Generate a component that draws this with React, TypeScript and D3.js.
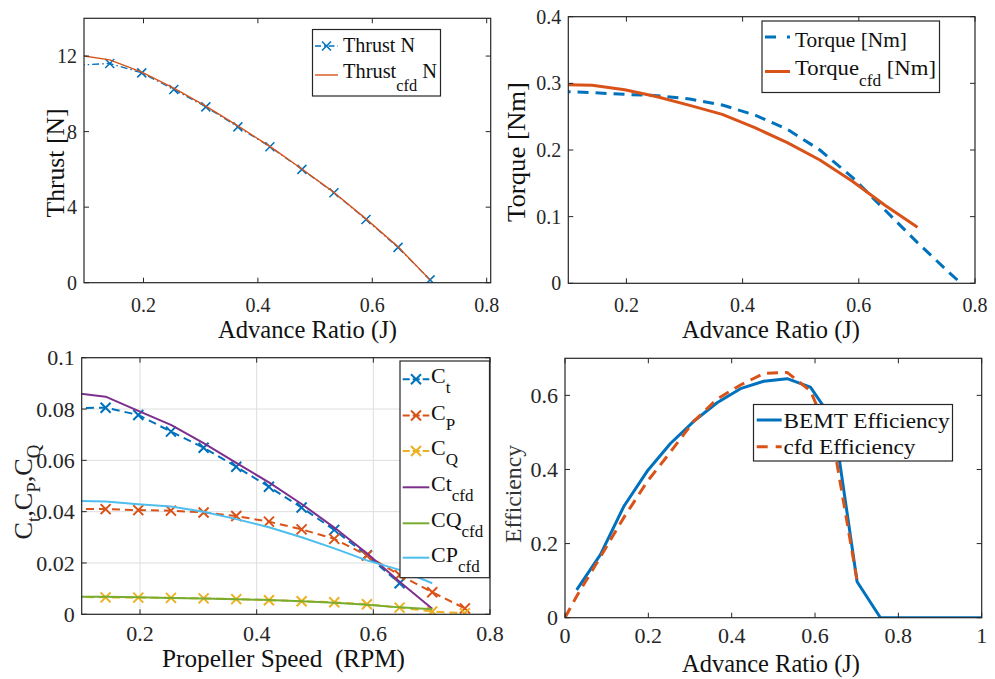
import React from 'react';
import * as d3 from 'd3';

// ---------------- DATA ----------------
// Panel 1: Thrust
const thrustJ = [0.085, 0.141, 0.197, 0.253, 0.309, 0.365, 0.421, 0.477, 0.533, 0.589, 0.645, 0.701];
const thrustBemt = [11.52, 11.61, 11.11, 10.23, 9.31, 8.25, 7.2, 6.0, 4.76, 3.35, 1.87, 0.15];
const thrustCfd = [12.05, 11.8, 11.15, 10.3, 9.35, 8.3, 7.22, 6.02, 4.78, 3.38, 1.9, 0.15];

// Panel 2: Torque
const torqueBemtJ = [0.085, 0.141, 0.197, 0.253, 0.309, 0.365, 0.421, 0.477, 0.533, 0.589, 0.645, 0.701, 0.757, 0.776];
const torqueBemt = [0.288, 0.286, 0.2835, 0.2815, 0.2765, 0.2675, 0.2525, 0.231, 0.2, 0.159, 0.11, 0.061, 0.015, 0];
const torqueCfdJ = [0.085, 0.141, 0.197, 0.253, 0.309, 0.365, 0.421, 0.477, 0.533, 0.589, 0.645, 0.701];
const torqueCfd = [0.298, 0.297, 0.2905, 0.28, 0.267, 0.2535, 0.2335, 0.211, 0.185, 0.153, 0.117, 0.084];

// Panel 3: coefficients
const coefJ = [0.085, 0.141, 0.197, 0.253, 0.309, 0.365, 0.421, 0.477, 0.533, 0.589, 0.645, 0.701, 0.757];
const ctBemt = [0.0804, 0.0805, 0.0777, 0.0712, 0.0649, 0.0575, 0.0497, 0.0416, 0.0329, 0.023, 0.0121];
const cpBemt = [0.041, 0.041, 0.0406, 0.0404, 0.0397, 0.0383, 0.0361, 0.0331, 0.0294, 0.0229, 0.0153, 0.0086, 0.0023];
const cqBemt = [0.0068, 0.0066, 0.0065, 0.0064, 0.0062, 0.0059, 0.0055, 0.0051, 0.0047, 0.0039, 0.0026, 0.0011, 0.0004];
const ctCfd = [0.0863, 0.0848, 0.0793, 0.0738, 0.0667, 0.059, 0.0514, 0.043, 0.0338, 0.0238, 0.0127, 0.0022];
const cqCfd = [0.0069, 0.0068, 0.0066, 0.0064, 0.0062, 0.0059, 0.0056, 0.0051, 0.0045, 0.0037, 0.0027, 0.002];
const cpCfd = [0.0442, 0.044, 0.0429, 0.042, 0.04, 0.0371, 0.0339, 0.03, 0.0257, 0.021, 0.0173, 0.0121];

// Panel 4: Efficiency
const effBemtJ = [0.028, 0.085, 0.141, 0.197, 0.253, 0.309, 0.365, 0.421, 0.477, 0.533, 0.589, 0.645, 0.701, 0.757, 0.813, 0.869, 0.925, 0.981, 1.0];
const effBemt = [0.075, 0.17, 0.3, 0.395, 0.47, 0.53, 0.58, 0.618, 0.638, 0.645, 0.622, 0.53, 0.097, 0, 0, 0, 0, 0, 0];
const effCfdJ = [0, 0.028, 0.085, 0.141, 0.197, 0.253, 0.309, 0.365, 0.421, 0.477, 0.533, 0.589, 0.645, 0.701];
const effCfd = [0, 0.058, 0.164, 0.27, 0.367, 0.447, 0.53, 0.59, 0.628, 0.659, 0.662, 0.612, 0.466, 0.1];

// Ticks
const p1XTicks = [0.2, 0.4, 0.6, 0.8];
const p1YTicks = [0, 4, 8, 12];
const p2XTicks = [0.2, 0.4, 0.6, 0.8];
const p2YTicks = [0, 0.1, 0.2, 0.3, 0.4];
const p3XTicks = [0.2, 0.4, 0.6, 0.8];
const p3YTicks = [0, 0.02, 0.04, 0.06, 0.08, 0.1];
const p4XTicks = [0, 0.2, 0.4, 0.6, 0.8, 1];
const p4YTicks = [0, 0.2, 0.4, 0.6];

// ---------------- STYLE ----------------
const COL = {
  blue: '#0072BD',
  red: '#D95319',
  yellow: '#EDB120',
  purple: '#7E2F8E',
  green: '#77AC30',
  cyan: '#4DBEEE',
};
const AX = '#262626';
const FONT = '"Liberation Serif", "DejaVu Serif", "Noto Serif", FreeSerif, "Nimbus Roman", "Times New Roman", Times, serif';
const fmt = d3.format('~g');

type Pt = [number, number];
const zip = (xs: number[], ys: number[]): Pt[] => ys.map((y, i) => [xs[i], y] as Pt);

const xMark = (s: number) => `M${-s},${-s}L${s},${s}M${-s},${s}L${s},${-s}`;

function Series({ pts, xs, ys, color, width, dash, marker, mSize = 5, mWidth, clip }: any) {
  const line = d3.line<Pt>().x((d) => xs(d[0])).y((d) => ys(d[1]));
  return (
    <g clipPath={`url(#${clip})`}>
      <path d={line(pts) || ''} fill="none" stroke={color} strokeWidth={width} strokeDasharray={dash} strokeLinejoin="round" />
      {marker &&
        pts.map((p: Pt, i: number) => (
          <path key={i} d={xMark(mSize)} transform={`translate(${xs(p[0])},${ys(p[1])})`} stroke={color} strokeWidth={mWidth || width} fill="none" />
        ))}
    </g>
  );
}

function Grid({ xs, ys, xTicks, yTicks }: any) {
  const [l, r] = xs.range();
  const [b, t] = ys.range();
  return (
    <g stroke="#dedede" strokeWidth={1}>
      {xTicks.map((v: number) => (
        <line key={'gx' + v} x1={xs(v)} x2={xs(v)} y1={t} y2={b} />
      ))}
      {yTicks.map((v: number) => (
        <line key={'gy' + v} x1={l} x2={r} y1={ys(v)} y2={ys(v)} />
      ))}
    </g>
  );
}

function FrameTop({ xs, ys, xTicks, yTicks, fs, xLabY, tickLen = 5 }: any) {
  const [l, r] = xs.range();
  const [b, t] = ys.range();
  return (
    <g>
      <g stroke={AX} strokeWidth={1}>
        {xTicks.map((v: number) => (
          <g key={'tx' + v}>
            <line x1={xs(v)} x2={xs(v)} y1={b} y2={b - tickLen} />
            <line x1={xs(v)} x2={xs(v)} y1={t} y2={t + tickLen} />
          </g>
        ))}
        {yTicks.map((v: number) => (
          <g key={'ty' + v}>
            <line x1={l} x2={l + tickLen} y1={ys(v)} y2={ys(v)} />
            <line x1={r} x2={r - tickLen} y1={ys(v)} y2={ys(v)} />
          </g>
        ))}
      </g>
      <rect x={l} y={t} width={r - l} height={b - t} fill="none" stroke={AX} strokeWidth={1.2} />
      <g style={{ fontFamily: FONT }} fontSize={fs} fill={AX}>
        {xTicks.map((v: number) => (
          <text key={'lx' + v} x={xs(v)} y={xLabY} textAnchor="middle">
            {fmt(v)}
          </text>
        ))}
        {yTicks.map((v: number) => (
          <text key={'ly' + v} x={l - 7} y={ys(v)} dy="0.35em" textAnchor="end">
            {fmt(v)}
          </text>
        ))}
      </g>
    </g>
  );
}

function ClipDef({ id, xs, ys }: any) {
  const [l, r] = xs.range();
  const [b, t] = ys.range();
  return (
    <clipPath id={id}>
      <rect x={l} y={t} width={r - l} height={b - t} />
    </clipPath>
  );
}

function LegText({ x, y, main, sub, tail, fs, subFs, subDy, len }: any) {
  return (
    <text
      x={x}
      y={y}
      style={{ fontFamily: FONT }}
      fontSize={fs}
      fill="#111"
      textLength={len}
      lengthAdjust={len ? 'spacingAndGlyphs' : undefined}
    >
      <tspan>{main}</tspan>
      {sub && (
        <tspan dy={subDy} fontSize={subFs}>
          {sub}
        </tspan>
      )}
      {tail && <tspan dy={-subDy}>{tail}</tspan>}
    </text>
  );
}

function Label({ x, y, rotate, text, fs, len, fill = '#111' }: any) {
  return (
    <text
      transform={`translate(${x},${y})${rotate ? ' rotate(-90)' : ''}`}
      textAnchor="middle"
      style={{ fontFamily: FONT }}
      fontSize={fs}
      fill={fill}
      textLength={len}
      lengthAdjust="spacingAndGlyphs"
    >
      {text}
    </text>
  );
}

export default function App() {
  const x1 = d3.scaleLinear().domain([0.096, 0.807]).range([84, 490.7]);
  const y1 = d3.scaleLinear().domain([0, 14]).range([282.7, 18.3]);
  const x2 = d3.scaleLinear().domain([0.1, 0.8]).range([568.3, 975]);
  const y2 = d3.scaleLinear().domain([0, 0.4]).range([283.3, 16.7]);
  const x3 = d3.scaleLinear().domain([0.1, 0.8]).range([81.7, 490]);
  const y3 = d3.scaleLinear().domain([0, 0.1]).range([614.3, 357.7]);
  const x4 = d3.scaleLinear().domain([0, 1]).range([565, 981.7]);
  const y4 = d3.scaleLinear().domain([0, 0.7]).range([617.7, 358.3]);

  const p3Legend = [
    { c: COL.blue, main: 'C', sub: 't', dash: '7,3', marker: true },
    { c: COL.red, main: 'C', sub: 'P', dash: '7,3', marker: true },
    { c: COL.yellow, main: 'C', sub: 'Q', dash: '7,3', marker: true },
    { c: COL.purple, main: 'Ct', sub: 'cfd' },
    { c: COL.green, main: 'CQ', sub: 'cfd' },
    { c: COL.cyan, main: 'CP', sub: 'cfd' },
  ];
  const p3RowY = [379.3, 415.5, 451, 487.3, 523.3, 557.7];

  return (
    <svg width={995} height={679} style={{ position: 'absolute', left: 0, top: 0, background: '#fff' }}>
      <defs>
        <ClipDef id="c1" xs={x1} ys={y1} />
        <ClipDef id="c2" xs={x2} ys={y2} />
        <ClipDef id="c3" xs={x3} ys={y3} />
        <ClipDef id="c4" xs={x4} ys={y4} />
      </defs>
      <rect x={0} y={0} width={995} height={679} fill="#fff" />

      {/* ---------- Panel 1: Thrust ---------- */}
      <Series pts={zip(thrustJ, thrustBemt)} xs={x1} ys={y1} color={COL.blue} width={1.3} dash="7,3,1.5,3" marker mSize={4.5} mWidth={1.5} clip="c1" />
      <Series pts={zip(thrustJ, thrustCfd)} xs={x1} ys={y1} color={COL.red} width={1.4} clip="c1" />
      <FrameTop xs={x1} ys={y1} xTicks={p1XTicks} yTicks={p1YTicks} fs={20} xLabY={312} />
      <Label x={307.5} y={338} text="Advance Ratio (J)" fs={25} len={179} />
      <Label x={64} y={163} rotate text="Thrust [N]" fs={25} len={109} />
      <g>
        <rect x={312.5} y={29.5} width={128} height={66.5} fill="#fff" stroke={AX} strokeWidth={1.2} />
        <line x1={315} x2={338} y1={46} y2={46} stroke={COL.blue} strokeWidth={1.3} strokeDasharray="6,3,1.5,3" />
        <path d={xMark(4.5)} transform="translate(326.5,46)" stroke={COL.blue} strokeWidth={1.5} fill="none" />
        <LegText x={343} y={52} main="Thrust N" fs={20} len={72} />
        <line x1={315} x2={338} y1={75} y2={75} stroke={COL.red} strokeWidth={1.4} />
        <LegText x={343} y={78} main="Thrust" sub="cfd" tail=" N" fs={20} subFs={16} subDy={13} len={94} />
      </g>

      {/* ---------- Panel 2: Torque ---------- */}
      <Series pts={zip(torqueBemtJ, torqueBemt)} xs={x2} ys={y2} color={COL.blue} width={3} dash="11,7" clip="c2" />
      <Series pts={zip(torqueCfdJ, torqueCfd)} xs={x2} ys={y2} color={COL.red} width={3} clip="c2" />
      <FrameTop xs={x2} ys={y2} xTicks={p2XTicks} yTicks={p2YTicks} fs={20} xLabY={312} />
      <Label x={771} y={338} text="Advance Ratio (J)" fs={25} len={178} />
      <Label x={525} y={152} rotate text="Torque [Nm]" fs={26} len={140} />
      <g>
        <rect x={762} y={21} width={177.5} height={71.5} fill="#fff" stroke={AX} strokeWidth={1.2} />
        <line x1={765} x2={790} y1={37} y2={37} stroke={COL.blue} strokeWidth={3} strokeDasharray="11,11" />
        <LegText x={795} y={46.7} main="Torque [Nm]" fs={21} len={112} />
        <line x1={765} x2={790} y1={71.5} y2={71.5} stroke={COL.red} strokeWidth={3} />
        <LegText x={795} y={75} main="Torque" sub="cfd" tail=" [Nm]" fs={21} subFs={16} subDy={11} len={141} />
      </g>

      {/* ---------- Panel 3: Coefficients ---------- */}
      <Grid xs={x3} ys={y3} xTicks={p3XTicks} yTicks={p3YTicks} />
      <Series pts={zip(coefJ, ctBemt)} xs={x3} ys={y3} color={COL.blue} width={2} dash="8,5" marker mSize={5} mWidth={2} clip="c3" />
      <Series pts={zip(coefJ, cpBemt)} xs={x3} ys={y3} color={COL.red} width={2} dash="8,5" marker mSize={5} mWidth={2} clip="c3" />
      <Series pts={zip(coefJ, cqBemt)} xs={x3} ys={y3} color={COL.yellow} width={2} dash="8,5" marker mSize={5} mWidth={2} clip="c3" />
      <Series pts={zip(coefJ, ctCfd)} xs={x3} ys={y3} color={COL.purple} width={2} clip="c3" />
      <Series pts={zip(coefJ, cqCfd)} xs={x3} ys={y3} color={COL.green} width={2} clip="c3" />
      <Series pts={zip(coefJ, cpCfd)} xs={x3} ys={y3} color={COL.cyan} width={2} clip="c3" />
      <FrameTop xs={x3} ys={y3} xTicks={p3XTicks} yTicks={p3YTicks} fs={22} xLabY={641} />
      <Label x={283.5} y={667} text={'Propeller Speed\u00a0\u00a0(RPM)'} fs={25} len={243} />
      <text transform="translate(32,492) rotate(-90)" textAnchor="middle" style={{ fontFamily: FONT }} fontSize={25} fill="#222" textLength={95} lengthAdjust="spacingAndGlyphs">
        <tspan>C</tspan>
        <tspan dy={8} fontSize={18}>t</tspan>
        <tspan dy={-8}>,C</tspan>
        <tspan dy={8} fontSize={18}>P</tspan>
        <tspan dy={-8}>,C</tspan>
        <tspan dy={8} fontSize={18}>Q</tspan>
      </text>
      <g>
        <rect x={400} y={361} width={89.5} height={216.7} fill="#fff" stroke={AX} strokeWidth={1.2} />
        {p3Legend.map((e, i) => (
          <g key={i}>
            <line x1={402.7} x2={429.3} y1={p3RowY[i]} y2={p3RowY[i]} stroke={e.c} strokeWidth={2} strokeDasharray={e.dash} />
            {e.marker && <path d={xMark(5)} transform={`translate(416,${p3RowY[i]})`} stroke={e.c} strokeWidth={2} fill="none" />}
            <LegText x={431} y={p3RowY[i] + 4} main={e.main} sub={e.sub} fs={22} subFs={17} subDy={10} />
          </g>
        ))}
      </g>

      {/* ---------- Panel 4: Efficiency ---------- */}
      <Series pts={zip(effBemtJ, effBemt)} xs={x4} ys={y4} color={COL.blue} width={3} clip="c4" />
      <Series pts={zip(effCfdJ, effCfd)} xs={x4} ys={y4} color={COL.red} width={3} dash="11,7" clip="c4" />
      <FrameTop xs={x4} ys={y4} xTicks={p4XTicks} yTicks={p4YTicks} fs={22} xLabY={643} />
      <Label x={771} y={672} text="Advance Ratio (J)" fs={25} len={178} />
      <Label x={521} y={494} rotate text="Efficiency" fs={24} len={98} fill="#333" />
      <g>
        <rect x={753.5} y={404.5} width={199} height={56.5} fill="#fff" stroke={AX} strokeWidth={1.2} />
        <line x1={756.7} x2={781.7} y1={420} y2={420} stroke={COL.blue} strokeWidth={3} />
        <LegText x={783.5} y={428.3} main="BEMT Efficiency" fs={22} len={166} />
        <line x1={756.7} x2={781.7} y1={446.7} y2={446.7} stroke={COL.red} strokeWidth={3} strokeDasharray="11,8" />
        <LegText x={783.5} y={454} main="cfd Efficiency" fs={22} len={132} />
      </g>
    </svg>
  );
}
